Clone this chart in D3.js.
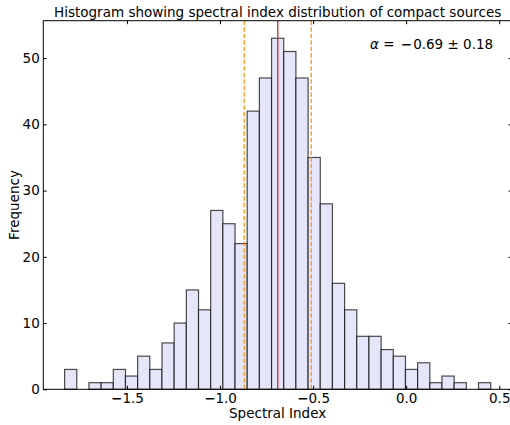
<!DOCTYPE html>
<html>
<head>
<meta charset="utf-8">
<script src="https://cdn.jsdelivr.net/npm/d3@7"></script>
<style>
    body { margin: 0; background: #fff; }
    text { font-family: "DejaVu Sans", sans-serif; fill: #000; }
</style>
</head>
<body>
<script>
(function(){

    //histogram bins
    var binStart = -1.835,
        binWidth = 0.0654;
    var counts = [3, 0, 1, 1, 3, 2, 5, 3, 7, 10, 15, 12, 27, 25, 22, 42, 47, 53, 51, 47,
                  35, 28, 16, 12, 8, 8, 6, 5, 3, 4, 1, 2, 1, 0, 1];

    var meanIndex = -0.69,
        sigmaIndex = 0.18;

    var xTicks = [-1.5, -1.0, -0.5, 0.0, 0.5];
    var yTicks = [0, 10, 20, 30, 40, 50];

    var titleText = "Histogram showing spectral index distribution of compact sources";

    window.onload = setChart();

function setChart(){
    var width = 510, height = 425;
    var left = 43.3, top = 20.7, right = 512, bottom = 389.3;
    var fs = "13.5px";

    var svg = d3.select("body")
        .append("svg")
        .attr("width", width)
        .attr("height", height);

    var bins = counts.map(function(c, i){
        return {x0: binStart + i * binWidth, x1: binStart + (i + 1) * binWidth, n: c};
    });

    //matplotlib style 5% margins on x, 5% headroom on y
    var xMin = binStart, xMax = binStart + counts.length * binWidth;
    var pad = (xMax - xMin) * 0.05;
    var x = d3.scaleLinear()
        .domain([xMin - pad, xMax + pad])
        .range([left, right]);

    var y = d3.scaleLinear()
        .domain([0, d3.max(counts) * 1.05])
        .range([bottom, top]);

    //bars
    svg.append("g")
        .selectAll("rect")
        .data(bins.filter(function(d){ return d.n > 0; }))
        .enter()
        .append("rect")
        .attr("x", function(d){ return x(d.x0); })
        .attr("y", function(d){ return y(d.n); })
        .attr("width", function(d){ return x(d.x1) - x(d.x0); })
        .attr("height", function(d){ return y(0) - y(d.n); })
        .style("fill", "#e6e6fa")
        .style("stroke", "#000")
        .style("stroke-opacity", 0.7)
        .style("stroke-width", 1.2);

    //sigma lines
    [meanIndex - sigmaIndex, meanIndex + sigmaIndex].forEach(function(v){
        svg.append("line")
            .attr("x1", x(v)).attr("x2", x(v))
            .attr("y1", top).attr("y2", bottom)
            .style("stroke", "#ff8c00")
            .style("stroke-opacity", 0.85)
            .style("stroke-width", 1.4)
            .style("stroke-dasharray", "4.5,2");
    });

    //mean line
    svg.append("line")
        .attr("x1", x(meanIndex)).attr("x2", x(meanIndex))
        .attr("y1", top).attr("y2", bottom)
        .style("stroke", "#c8262b")
        .style("stroke-opacity", 0.85)
        .style("stroke-width", 1.5);

    //frame
    svg.append("rect")
        .attr("x", left).attr("y", top)
        .attr("width", right - left).attr("height", bottom - top)
        .style("fill", "none")
        .style("stroke", "#000")
        .style("stroke-width", 1);

    //inward ticks on all sides
    var fmt = function(d){ return d3.format(".1f")(Math.abs(d)); };

    var bottomAxis = d3.axisBottom(x).tickValues(xTicks).tickSizeInner(-3.5).tickSizeOuter(0).tickPadding(4).tickFormat(fmt);
    var topAxis = d3.axisTop(x).tickValues(xTicks).tickSizeInner(-3.5).tickSizeOuter(0).tickFormat("");
    var leftAxis = d3.axisLeft(y).tickValues(yTicks).tickSizeInner(-3.5).tickSizeOuter(0).tickPadding(3.5);
    var rightAxis = d3.axisRight(y).tickValues(yTicks).tickSizeInner(-3.5).tickSizeOuter(0).tickFormat("");

    function styleAxis(g){
        g.select(".domain").remove();
        g.selectAll("line").style("stroke", "#000").style("stroke-width", 1);
        g.selectAll("text").style("font-size", fs).style("font-family", "DejaVu Sans, sans-serif");
    }

    var gx = svg.append("g").attr("transform", "translate(0," + bottom + ")").call(bottomAxis).call(styleAxis);
    //bold math-style minus in front of negative tick labels
    gx.selectAll(".tick text").each(function(d){
        if (d < 0){
            var t = d3.select(this), v = t.text();
            t.text("");
            t.append("tspan").style("font-weight", "bold").text("\u2212");
            t.append("tspan").text(v);
        }
    });
    svg.append("g").attr("transform", "translate(0," + top + ")").call(topAxis).call(styleAxis);
    svg.append("g").attr("transform", "translate(" + left + ",0)").call(leftAxis).call(styleAxis);
    svg.append("g").attr("transform", "translate(" + right + ",0)").call(rightAxis).call(styleAxis);

    //labels
    svg.append("text")
        .attr("x", (left + right) / 2)
        .attr("y", 16.7)
        .attr("text-anchor", "middle")
        .style("font-size", fs)
        .text(titleText);

    svg.append("text")
        .attr("x", (left + right) / 2)
        .attr("y", 418)
        .attr("text-anchor", "middle")
        .style("font-size", fs)
        .text("Spectral Index");

    svg.append("text")
        .attr("transform", "translate(19,205) rotate(-90)")
        .attr("text-anchor", "middle")
        .style("font-size", fs)
        .text("Frequency");

    var note = svg.append("text")
        .attr("x", 370)
        .attr("y", 49)
        .style("font-size", fs);
    note.append("tspan").style("font-style", "italic").text("\u03b1");
    note.append("tspan").text(" = ");
    note.append("tspan").attr("dx", 2).style("font-weight", "bold").text("\u2212");
    note.append("tspan").attr("dx", 1).text(Math.abs(meanIndex).toFixed(2));
    note.append("tspan").text(" \u00b1 " + sigmaIndex.toFixed(2));
};

})();
</script>
</body>
</html>
